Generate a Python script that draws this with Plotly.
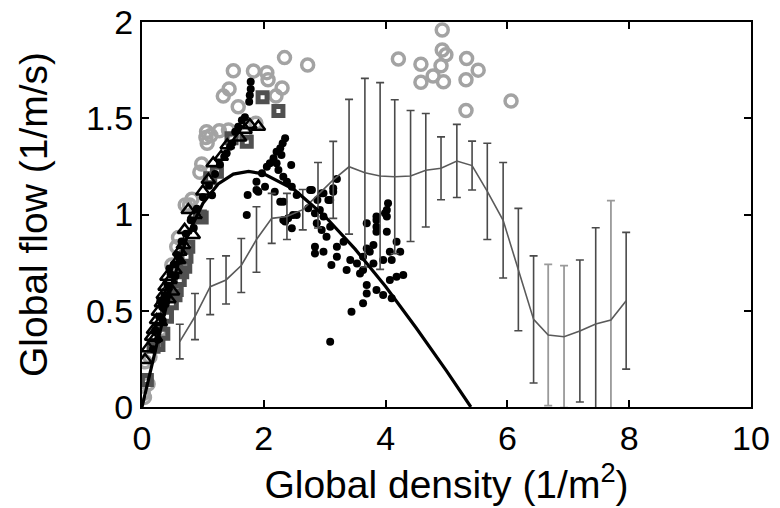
import plotly.graph_objects as go
import numpy as np

# ---- data ----
# model curve (black thick line)
curve_x = [0.0, 0.1, 0.25, 0.5, 0.75, 1.0, 1.25, 1.5, 1.75, 2.0, 2.5, 3.0, 3.5, 4.0, 4.5, 5.0, 5.4]
curve_y = [0.0, 0.134, 0.335, 0.649, 0.893, 1.058, 1.159, 1.210, 1.224, 1.211, 1.129, 0.992, 0.820, 0.626, 0.412, 0.188, 0.0]

# binned mean with error bars
mean_x = [0.62, 0.87, 1.12, 1.38, 1.63, 1.88, 2.13, 2.38, 2.64, 2.89, 3.14, 3.40, 3.66, 3.91, 4.15,
          4.41, 4.66, 4.91, 5.17, 5.42, 5.67, 5.93, 6.18, 6.43, 6.67, 6.93, 7.19, 7.45, 7.70, 7.95]
mean_y = [0.34, 0.47, 0.625, 0.66, 0.735, 0.87, 0.98, 0.99, 1.025, 1.10, 1.18, 1.248, 1.217, 1.20, 1.196,
          1.20, 1.23, 1.24, 1.278, 1.254, 1.12, 0.97, 0.714, 0.455, 0.374, 0.365, 0.395, 0.431, 0.452, 0.552]
mean_err = [0.09, 0.12, 0.145, 0.125, 0.14, 0.17, 0.13, 0.12, 0.105, 0.17, 0.2, 0.35, 0.49, 0.485, 0.40,
            0.34, 0.295, 0.163, 0.19, 0.127, 0.25, 0.30, 0.318, 0.33, 0.367, 0.369, 0.369, 0.50, 0.62, 0.355]
light_bars = [24, 25, 28]

# gray open circles
circ_x = [4.93, 4.21, 4.93, 4.99, 5.33, 4.58, 4.91, 5.52, 4.78, 4.58, 4.95, 5.32, 6.06, 5.32,
          2.34, 2.72, 1.50, 1.83, 2.05, 2.07, 1.43, 1.335, 2.30, 2.20, 1.58, 1.87, 1.06, 1.27, 1.42,
          1.07, 1.69, 0.98, 0.82, 0.78, 0.71, 0.57, 0.49, 0.13, 0.05, 0.02, 1.13, 1.05, 0.95, 0.60,
          0.30, 0.10, 0.04]
circ_y = [1.958, 1.808, 1.855, 1.83, 1.81, 1.78, 1.773, 1.75, 1.72, 1.687, 1.69, 1.70, 1.59, 1.54,
          1.815, 1.777, 1.747, 1.745, 1.737, 1.70, 1.652, 1.615, 1.657, 1.615, 1.56, 1.474, 1.43, 1.435, 1.439,
          1.37, 1.42, 1.262, 1.079, 1.05, 1.05, 0.833, 0.738, 0.26, 0.235, 0.07, 1.41, 1.40, 1.22, 0.88,
          0.40, 0.12, 0.05]

# dark gray open squares
sq_x = [1.98, 2.24, 1.47, 1.72, 1.23, 1.12, 0.98, 0.95, 0.76, 0.73, 0.71, 0.62, 0.57, 0.49, 0.41,
        0.27, 0.19, 0.08, 0.66, 0.55, 0.35]
sq_y = [1.609, 1.538, 1.396, 1.378, 1.222, 1.188, 0.985, 0.989, 0.833, 0.781, 0.729, 0.66, 0.608, 0.539,
        0.469, 0.322, 0.313, 0.14, 0.70, 0.58, 0.38]

# black open triangles
tri_x = [1.91, 1.77, 1.69, 1.60, 1.17, 1.09, 1.00, 0.76, 0.87, 0.84, 0.68, 0.62, 0.60, 0.54, 0.46, 0.41,
         0.38, 0.35, 0.32, 0.27, 0.24, 0.19, 0.16, 0.10, 0.05, 0.50, 0.44, 0.30, 0.22, 0.70, 1.40, 1.30]
tri_y = [1.456, 1.465, 1.44, 1.40, 1.266, 1.18, 1.12, 1.023, 0.997, 0.894, 0.842, 0.807, 0.764, 0.712,
         0.66, 0.677, 0.625, 0.582, 0.539, 0.495, 0.452, 0.40, 0.365, 0.305, 0.244, 0.60, 0.56, 0.44, 0.36,
         0.92, 1.36, 1.30]

# black filled dots
dot_x = [1.785, 1.785, 1.77, 1.76, 1.69, 1.64, 1.58, 1.53, 1.445, 1.39, 2.35, 2.31, 2.27, 2.21, 2.29,
         2.16, 2.10, 2.05, 2.21, 2.45, 1.97, 2.24, 2.32, 1.88, 2.38, 2.46, 2.18, 1.735, 1.91, 2.54, 2.76,
         3.20, 3.14, 2.98, 3.09, 2.88, 2.27, 1.72, 2.48, 2.32, 4.04, 4.02, 3.85, 4.02, 3.69,
         1.88, 2.02, 2.32, 2.40, 2.35, 2.46, 2.54, 2.73, 2.79, 2.95, 3.06, 3.14, 2.84, 2.92, 2.98, 2.87,
         2.95, 3.09, 3.03, 2.84, 2.98, 3.20, 3.11, 3.31, 3.42, 3.53, 3.63, 3.69, 3.74, 3.80, 3.85, 3.99,
         3.85, 3.85, 4.02, 3.63, 3.58, 3.80, 3.96, 4.10, 4.07, 4.18, 4.24, 4.29, 4.18, 4.07, 3.85, 3.69,
         3.69, 3.96, 4.10, 3.63, 3.44, 3.09, 3.36, 3.20, 2.84,
         0.22, 0.28, 0.33, 0.37, 0.42, 0.47, 0.52, 0.58, 0.65, 0.72, 0.80, 0.90, 1.00, 1.10, 1.20, 1.28,
         1.35, 1.48, 0.30, 0.40, 0.45, 0.55, 0.18, 0.26, 0.34, 0.62, 0.85, 1.15]
dot_y = [1.69, 1.652, 1.62, 1.586, 1.505, 1.49, 1.456, 1.43, 1.352, 1.318, 1.396, 1.37, 1.344, 1.326,
         1.309, 1.292, 1.266, 1.248, 1.266, 1.257, 1.214, 1.231, 1.196, 1.17, 1.17, 1.144, 1.118, 1.101,
         1.118, 1.101, 1.127, 1.184, 1.118, 1.11, 1.075, 1.075, 1.066, 0.997, 0.997, 0.971, 1.058, 1.023,
         0.989, 0.989, 0.954,
         1.127, 1.144, 1.066, 0.98, 0.963, 0.928, 0.997, 1.032, 1.127, 1.11, 1.075, 1.136, 1.006, 1.023,
         0.989, 0.954, 0.919, 0.937, 0.885, 0.833, 0.807, 0.781, 0.738, 0.859, 0.764, 0.746, 0.781, 0.824,
         0.807, 0.842, 0.937, 1.006, 0.971, 0.911, 0.911, 0.712, 0.694, 0.746, 0.764, 0.764, 0.807, 0.859,
         0.807, 0.686, 0.677, 0.66, 0.608, 0.634, 0.59, 0.582, 0.565, 0.539, 0.495, 0.339, 0.712, 0.833,
         0.798,
         0.40, 0.47, 0.52, 0.58, 0.63, 0.69, 0.74, 0.79, 0.86, 0.90, 0.97, 1.03, 1.09, 1.15, 1.21, 1.26,
         1.30, 1.37, 0.55, 0.55, 0.72, 0.68, 0.30, 0.35, 0.45, 0.76, 0.93, 1.10]

x_ticks = [0, 2, 4, 6, 8, 10]
y_ticks = [0, 0.5, 1, 1.5, 2]
y_tick_text = ["0", "0.5", "1", "1.5", "2"]

FONT = "Liberation Sans, Arial, sans-serif"

# ---- figure ----
fig = go.Figure()

fig.add_trace(go.Scatter(x=circ_x, y=circ_y, mode="markers",
                         marker=dict(symbol="circle-open", size=12, color="#a3a3a3", line=dict(width=3.5, color="#a3a3a3"))))
fig.add_trace(go.Scatter(x=sq_x, y=sq_y, mode="markers",
                         marker=dict(symbol="square-open", size=9, color="#505050", line=dict(width=5, color="#505050"))))
fig.add_trace(go.Scatter(x=tri_x, y=tri_y, mode="markers",
                         marker=dict(symbol="triangle-up-open", size=12, color="#000000", line=dict(width=2.5, color="#000000"))))
fig.add_trace(go.Scatter(x=dot_x, y=dot_y, mode="markers",
                         marker=dict(symbol="circle", size=8, color="#000000")))

mx = np.array(mean_x); my = np.array(mean_y); me = np.array(mean_err)
light = np.zeros(len(mx), dtype=bool); light[light_bars] = True
fig.add_trace(go.Scatter(x=mx[~light], y=my[~light], mode="markers",
                         marker=dict(size=1, color="rgba(0,0,0,0)"),
                         error_y=dict(type="data", array=me[~light], visible=True, color="#4a4a4a", thickness=1.6, width=4)))
fig.add_trace(go.Scatter(x=mx[light], y=my[light], mode="markers",
                         marker=dict(size=1, color="rgba(0,0,0,0)"),
                         error_y=dict(type="data", array=me[light], visible=True, color="#9a9a9a", thickness=1.8, width=4)))
fig.add_trace(go.Scatter(x=mean_x, y=mean_y, mode="lines", line=dict(color="#5a5a5a", width=1.6)))

fig.add_trace(go.Scatter(x=curve_x, y=curve_y, mode="lines", line=dict(color="#000000", width=3.2)))

axis_common = dict(showgrid=False, zeroline=False, showline=True, linecolor="#000000", linewidth=2,
                   mirror="ticks", ticks="inside", ticklen=7, tickwidth=2, tickcolor="#000000",
                   automargin=False,
                   tickfont=dict(family=FONT, size=34, color="#000000"))
fig.update_xaxes(range=[0, 10], tickvals=x_ticks, ticktext=[str(t) for t in x_ticks],
                 title=dict(text="Global density (1/m<sup>2</sup>)", standoff=4,
                            font=dict(family=FONT, size=39, color="#000000")),
                 **axis_common)
fig.update_yaxes(range=[0, 2], tickvals=y_ticks, ticktext=y_tick_text,
                 title=dict(text="Global flow (1/m/s)", standoff=26,
                            font=dict(family=FONT, size=39, color="#000000")),
                 **axis_common)

fig.update_layout(width=780, height=508, margin=dict(l=142, r=29, t=22, b=101, autoexpand=False),
                  paper_bgcolor="white", plot_bgcolor="white", showlegend=False)

# remove the browser's default 8 px page margin so the figure fills the window exactly
fig.write_html("out.html", config={"displayModeBar": False},
               post_script="document.body.style.margin='0px';document.body.style.overflow='hidden';")
